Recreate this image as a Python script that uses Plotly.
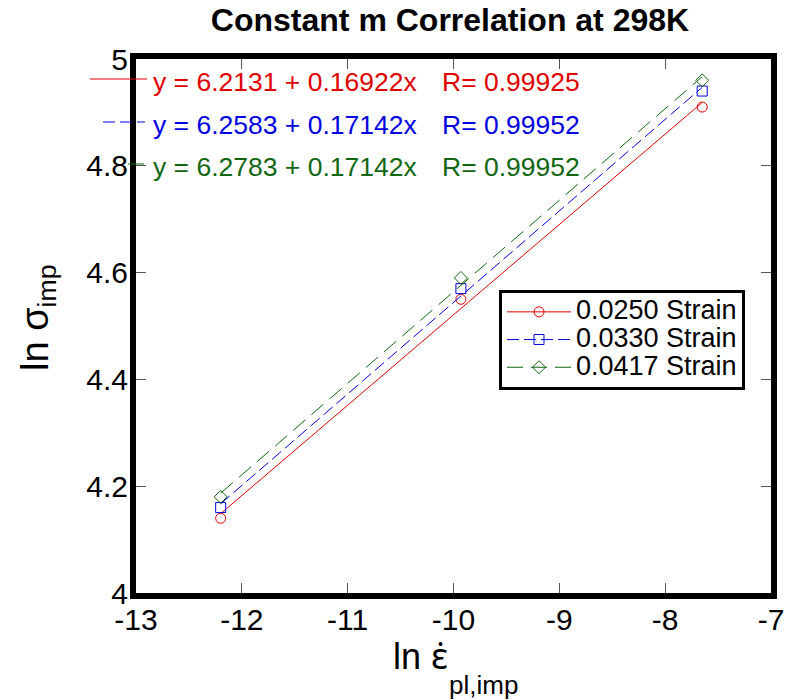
import plotly.graph_objects as go

# ---- data ----
x_vals = [-12.2, -9.93, -7.65]
series_names = ["0.0250 Strain", "0.0330 Strain", "0.0417 Strain"]
y_red = [4.14, 4.55, 4.91]
y_blue = [4.16, 4.57, 4.94]
y_green = [4.18, 4.59, 4.96]
intercepts = [6.2131, 6.2583, 6.2783]
slopes = [0.16922, 0.17142, 0.17142]
r_values = [0.99925, 0.99952, 0.99952]
x_ticks = [-13, -12, -11, -10, -9, -8, -7]
y_ticks = [4, 4.2, 4.4, 4.6, 4.8, 5]

# ---- styles ----
colors = ["#e00000", "#0000e0", "#116611"]
symbols = ["circle-open", "square-open", "diamond-open"]
dashes = ["solid", "12px,5px", "16px,8px"]
FONT = "Liberation Sans, Arial, sans-serif"

FW, FH = 789, 700

fig = go.Figure()
ys = [y_red, y_blue, y_green]
xmin, xmax = min(x_vals), max(x_vals)
for i in range(3):
    fx = [xmin, xmax]
    fy = [intercepts[i] + slopes[i] * v for v in fx]
    fig.add_trace(go.Scatter(x=fx, y=fy, mode="lines", showlegend=False,
                             line=dict(color=colors[i], width=1, dash=dashes[i]),
                             hoverinfo="skip"))
    fig.add_trace(go.Scatter(x=x_vals, y=ys[i], mode="markers", showlegend=False,
                             marker=dict(symbol=symbols[i], size=10, color=colors[i],
                                         line=dict(width=1, color=colors[i]))))
    fig.add_trace(go.Scatter(x=[None], y=[None], mode="lines+markers",
                             name=f"<span style='font-size:27px'>{series_names[i]}</span>",
                             line=dict(color=colors[i], width=1, dash=dashes[i]),
                             marker=dict(symbol=symbols[i], size=10, color=colors[i],
                                         line=dict(width=1, color=colors[i]))))

# plot area in px: x 136..771, y 59..593
L, R, T, B = 136, 771, 59, 593
def px_x(p):
    return (p - L) / (R - L)
def px_y(p):
    return (B - p) / (B - T)

eq_rows = [82, 125, 167]
sample_lines = [(90, 147), (103, 145), (128, 145)]
annotations = []
shapes = []
for i in range(3):
    eq = f"y = {intercepts[i]:.4f} + {slopes[i]:.5f}x"
    rr = f"R= {r_values[i]:.5f}"
    annotations.append(dict(text=eq, x=px_x(151), y=px_y(eq_rows[i]), xref="paper", yref="paper",
                            xanchor="left", yanchor="middle", showarrow=False,
                            font=dict(family=FONT, size=26.5, color=colors[i])))
    annotations.append(dict(text=rr, x=px_x(440), y=px_y(eq_rows[i]), xref="paper", yref="paper",
                            xanchor="left", yanchor="middle", showarrow=False,
                            font=dict(family=FONT, size=26.5, color=colors[i])))
    shapes.append(dict(type="line", xref="paper", yref="paper",
                       x0=px_x(sample_lines[i][0]), x1=px_x(sample_lines[i][1]),
                       y0=px_y(eq_rows[i] - 3), y1=px_y(eq_rows[i] - 3),
                       line=dict(color=colors[i], width=1, dash=dashes[i]), layer="above"))

# y-axis title as rotated text
annotations.append(dict(text="ln σ<sub>imp</sub>", textangle=-90,
                        x=px_x(38), y=px_y(318), xref="paper", yref="paper",
                        xanchor="center", yanchor="middle", showarrow=False,
                        font=dict(family=FONT, size=38, color="black")))
# x-axis title: main part (epsilon with dot above) and subscript
annotations.append(dict(text="ln <span style='font-family:Noto Sans'>ε̇</span>",
                        x=px_x(391), y=px_y(655), xref="paper", yref="paper",
                        xanchor="left", yanchor="middle", showarrow=False,
                        font=dict(family=FONT, size=36, color="black")))
annotations.append(dict(text="pl,imp", x=px_x(447), y=px_y(685), xref="paper", yref="paper",
                        xanchor="left", yanchor="middle", showarrow=False,
                        font=dict(family=FONT, size=26, color="black")))

fig.update_layout(
    width=FW, height=FH,
    margin=dict(l=L, r=FW - R, t=T, b=FH - B, autoexpand=False),
    paper_bgcolor="white", plot_bgcolor="white",
    font=dict(family=FONT, color="black"),
    title=dict(text="Constant m Correlation at 298K", x=(450 - L) / (R - L), xref="paper",
               xanchor="center", y=1 - 20 / FH, yref="container", yanchor="middle",
               font=dict(family=FONT, size=32, color="black", weight="bold")),
    showlegend=True,
    legend=dict(x=px_x(499), y=px_y(290), xanchor="left", yanchor="top",
                bgcolor="white", bordercolor="black", borderwidth=3,
                font=dict(family=FONT, size=19), itemwidth=64,
                tracegroupgap=0),
    annotations=annotations,
    shapes=shapes,
)
fig.update_xaxes(range=[-13, -7], tickvals=x_ticks, ticktext=[str(v) for v in x_ticks],
                 showline=True, linewidth=6, linecolor="black", mirror="ticks",
                 ticks="inside", ticklen=10, tickwidth=1, tickcolor="#555555",
                 showgrid=False, zeroline=False, ticklabelstandoff=-5,
                 tickfont=dict(family=FONT, size=30, color="black"))
fig.update_yaxes(range=[4, 5], tickvals=y_ticks, ticktext=[f"{v:g}" for v in y_ticks],
                 showline=True, linewidth=6, linecolor="black", mirror="ticks",
                 ticks="inside", ticklen=10, tickwidth=1, tickcolor="#555555",
                 showgrid=False, zeroline=False, ticklabelstandoff=-4,
                 tickfont=dict(family=FONT, size=30, color="black"))

fig.write_html("out.html", config={"displayModeBar": False},
               post_script="document.body.style.margin='0';")
